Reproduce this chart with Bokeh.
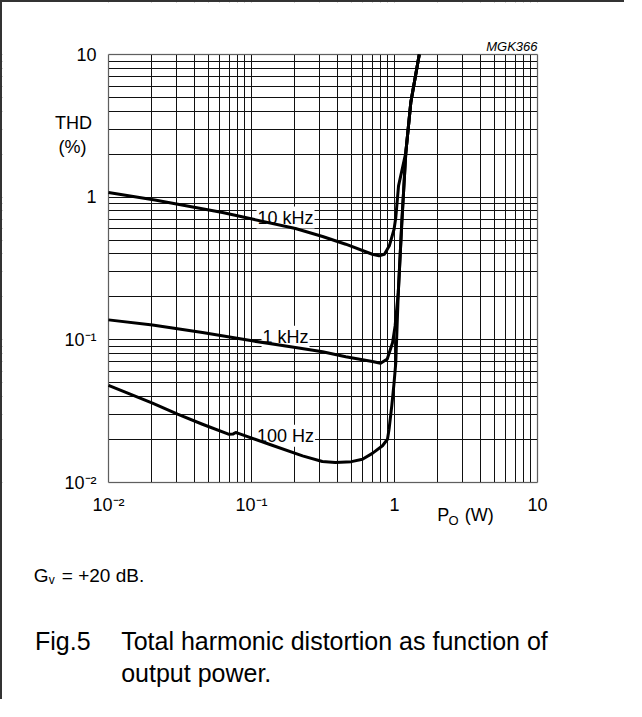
from bokeh.plotting import figure
from bokeh.models import FixedTicker, Label, BoxAnnotation
from bokeh.embed import file_html
from bokeh.resources import INLINE

# ---- data ----
p_100hz = [0.01, 0.0203, 0.0304, 0.0454, 0.069, 0.0745, 0.0776, 0.0819, 0.133, 0.2275,
           0.313, 0.386, 0.50, 0.597, 0.70, 0.824, 0.893, 0.916, 0.957, 0.993, 1.021,
           1.063, 1.125, 1.2, 1.3, 1.49]
thd_100hz = [0.048, 0.036, 0.0301, 0.0256, 0.0218, 0.0219, 0.0224, 0.0220, 0.01855, 0.01538,
             0.01403, 0.0138, 0.0140, 0.01456, 0.0160, 0.0181, 0.0201, 0.0236, 0.0344, 0.050, 0.0693,
             0.215, 0.664, 2.05, 4.6, 10.0]

p_1khz = [0.01, 0.0203, 0.0454, 0.101, 0.203, 0.314, 0.456, 0.70, 0.80, 0.89, 0.97, 1.01,
          1.063, 1.125, 1.2, 1.3, 1.49]
thd_1khz = [0.138, 0.127, 0.1125, 0.0984, 0.0883, 0.0824, 0.0760, 0.0705, 0.0686, 0.0733, 0.0957, 0.125,
            0.215, 0.664, 2.05, 4.6, 10.0]

p_10khz = [0.01, 0.0211, 0.0627, 0.103, 0.203, 0.314, 0.456, 0.70, 0.78, 0.85, 0.92, 0.993,
           1.021, 1.067, 1.2, 1.3, 1.49]
thd_10khz = [1.08, 0.955, 0.78, 0.70, 0.603, 0.53, 0.468, 0.398, 0.388, 0.398, 0.456, 0.596,
             0.72, 1.2, 2.05, 4.6, 10.0]

x_ticks = [0.01, 0.1, 1, 10]
x_tick_labels = ["10\u207b\u00b2", "10\u207b\u00b9", "1", "10"]
y_ticks = [0.01, 0.1, 1, 10]
y_tick_labels = ["10\u207b\u00b2", "10\u207b\u00b9", "1", "10"]

curve_names = ["10 kHz", "1 kHz", "100 Hz"]
curve_name_x = [0.173, 0.173, 0.173]
curve_name_y = [0.72, 0.105, 0.0213]

FONT = "Liberation Sans"

# ---- layout (pixels on the canvas) ----
W, H = 624, 699
BOX_L, BOX_T, BOX_W, BOX_H = 106, 52, 429, 428
xdec = len(x_ticks) - 1
ydec = len(y_ticks) - 1
xppd = BOX_W / xdec
yppd = BOX_H / ydec
x_start = x_ticks[0] * 10 ** (-BOX_L / xppd)
x_end = x_ticks[-1] * 10 ** ((W - BOX_L - BOX_W) / xppd)
y_start = y_ticks[0] * 10 ** (-(H - BOX_T - BOX_H) / yppd)
y_end = y_ticks[-1] * 10 ** (BOX_T / yppd)

p = figure(width=W, height=H, x_axis_type="log", y_axis_type="log",
           x_range=(x_start, x_end), y_range=(y_start, y_end),
           output_backend="svg", toolbar_location=None, title=None, min_border=0)
p.background_fill_color = "white"
p.border_fill_color = "white"
p.outline_line_color = None
p.styles = {"border-top": "2px solid #333", "border-left": "2px solid #333"}

minor = [m * 10.0 ** e for e in range(-2, 1) for m in range(2, 10)]
for ax, ticks, labels, cross in [(p.xaxis[0], x_ticks, x_tick_labels, y_ticks[0]),
                                 (p.yaxis[0], y_ticks, y_tick_labels, x_ticks[0])]:
    ax.ticker = FixedTicker(ticks=ticks, minor_ticks=minor)
    ax.major_label_overrides = dict(zip(ticks, labels))
    ax.fixed_location = cross
    ax.bounds = (ticks[0], ticks[-1])
    ax.axis_line_color = None
    ax.major_tick_line_color = None
    ax.minor_tick_line_color = None
    ax.major_label_text_font = FONT
    ax.major_label_text_font_size = "18px"
    ax.major_label_text_color = "black"
p.xaxis.major_label_standoff = 6
p.yaxis.major_label_standoff = 6

for g in (p.xgrid[0], p.ygrid[0]):
    g.grid_line_color = "#111111"
    g.grid_line_width = 1
    g.grid_line_alpha = 1
    g.minor_grid_line_color = "#111111"
    g.minor_grid_line_width = 1
    g.minor_grid_line_alpha = 1

# white masks: keep the grid inside the chart box only
for kw in [dict(right=x_ticks[0]), dict(left=x_ticks[-1]),
           dict(top=y_ticks[0]), dict(bottom=y_ticks[-1])]:
    p.add_layout(BoxAnnotation(fill_color="white", fill_alpha=1, line_color=None,
                               level="underlay", **kw))

# chart box
p.add_layout(BoxAnnotation(left=x_ticks[0], right=x_ticks[-1], bottom=y_ticks[0], top=y_ticks[-1],
                           fill_alpha=0, line_color="black", line_width=1.5, level="underlay"))

for t, lx, ly in zip(curve_names, curve_name_x, curve_name_y):
    p.add_layout(Label(x=lx, y=ly, text=t, text_align="center", text_baseline="alphabetic",
                       text_font=FONT, text_font_size="18px", text_color="black",
                       background_fill_color="white", padding=1, level="underlay"))

for xs, ys in [(p_10khz, thd_10khz), (p_1khz, thd_1khz), (p_100hz, thd_100hz)]:
    p.line(xs, ys, line_width=3, line_color="black", line_join="round")


def scr(text, x, y, size="18px", align="left", style="normal"):
    p.add_layout(Label(x=x, y=y, x_units="screen", y_units="screen", text=text,
                       text_align=align, text_baseline="alphabetic", text_font=FONT,
                       text_font_size=size, text_font_style=style, text_color="black"))


scr("MGK366", 535, 655, size="13px", align="right", style="italic")
scr("THD", 71, 579, align="center")
scr("(%)", 70, 555, align="center")
scr("P", 434.8, 186.3)
scr("O", 445.9, 181, size="13px")
scr("(W)", 462.3, 186.3)
scr("G", 31.3, 126, size="19px")
scr("v", 46.2, 122, size="12px")
scr("= +20 dB.", 59.3, 126, size="19px")
scr("Fig.5", 32.5, 61, size="25px")
scr("Total harmonic distortion as function of", 118.7, 61, size="25px")
scr("output power.", 118.7, 29, size="25px")

open("out.html", "w").write(file_html(p, INLINE))
